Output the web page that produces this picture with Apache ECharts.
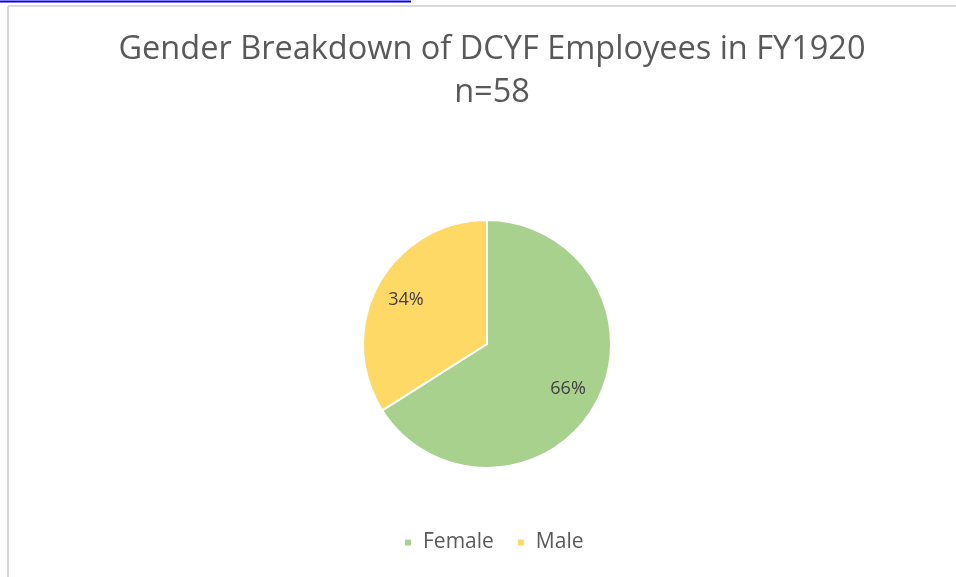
<!DOCTYPE html>
<html>
<head>
<meta charset="utf-8">
<script src="https://cdn.jsdelivr.net/npm/echarts@6/dist/echarts.min.js"></script>
<style>
  html, body { margin: 0; padding: 0; background: #fff; }
  #chart { width: 956px; height: 577px; }
</style>
</head>
<body>
<div id="chart"></div>
<script>
var categories = ['Female', 'Male'];
var shares = [66, 34];
var colors = ['#A9D18E', '#FFD966'];

var chart = echarts.init(document.getElementById('chart'));

var pieData = categories.map(function (name, i) {
    return { name: name, value: shares[i], itemStyle: { color: colors[i] } };
});

var opts = {
    animation: false,
    title: {
        text: 'Gender Breakdown of DCYF Employees in FY1920\nn=58',
        left: 487,
        top: 23,
        textAlign: 'center',
        textStyle: {
            fontFamily: 'Open Sans',
            fontSize: 32.5,
            fontWeight: 'normal',
            color: '#595959',
            lineHeight: 43
        }
    },
    legend: {
        bottom: 19,
        left: 398,
        itemWidth: 8,
        itemHeight: 8,
        itemGap: 22,
        icon: 'rect',
        data: categories,
        textStyle: {
            fontFamily: 'Open Sans',
            fontSize: 21,
            color: '#595959',
            padding: [0, 0, 0, 6]
        }
    },
    graphic: [
        { type: 'line', shape: { x1: 0, y1: 1.5, x2: 411, y2: 1.5 }, style: { stroke: '#0000ff', lineWidth: 2 } },
        { type: 'line', shape: { x1: 8, y1: 6, x2: 956, y2: 6 }, style: { stroke: '#d9d9d9', lineWidth: 2 } },
        { type: 'line', shape: { x1: 8, y1: 6, x2: 8, y2: 577 }, style: { stroke: '#d9d9d9', lineWidth: 2 } }
    ],
    series: [
        {
            type: 'pie',
            center: [487, 344],
            radius: 124,
            clockwise: true,
            startAngle: 90,
            itemStyle: { borderColor: '#fff', borderWidth: 2 },
            label: { show: false },
            labelLine: { show: false },
            data: pieData
        },
        {
            // label-only ring so the percentages sit about 0.72r from centre
            type: 'pie',
            center: [487, 344],
            radius: [55, 124],
            silent: true,
            startAngle: 90,
            itemStyle: { color: 'transparent', borderWidth: 0 },
            label: {
                show: true,
                position: 'inside',
                formatter: '{c}%',
                fontFamily: 'Open Sans',
                fontSize: 18,
                color: '#404040'
            },
            labelLine: { show: false },
            data: categories.map(function (name, i) {
                return { name: name, value: shares[i] };
            })
        }
    ]
};

chart.setOption(opts);
</script>
</body>
</html>
